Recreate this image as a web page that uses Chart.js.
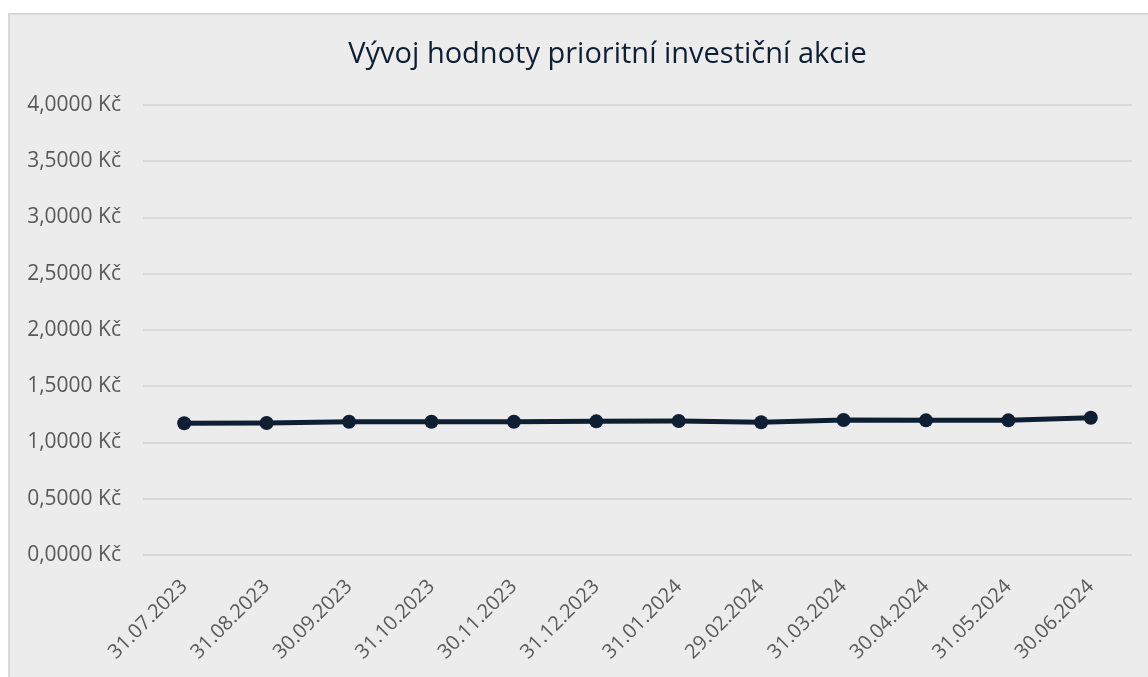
<!DOCTYPE html>
<html>
<head>
<meta charset="utf-8">
<script src="https://cdn.jsdelivr.net/npm/chart.js@4"></script>
<style>
  html, body { margin: 0; padding: 0; background: #ffffff; }
  #wrap {
    position: absolute; left: 8px; top: 13px;
    width: 1140px; height: 664px;
    box-sizing: border-box;
    background: #ececec;
    border-left: 2px solid #d9d9d9;
    border-top: 2px solid #d9d9d9;
  }
  canvas { display: block; }
</style>
</head>
<body>
<div id="wrap"><canvas id="c" width="1138" height="662"></canvas></div>
<script>
const chartTitle = 'Vývoj hodnoty prioritní investiční akcie';
const categories = ['31.07.2023', '31.08.2023', '30.09.2023', '31.10.2023', '30.11.2023', '31.12.2023',
                    '31.01.2024', '29.02.2024', '31.03.2024', '30.04.2024', '31.05.2024', '30.06.2024'];
const values = [1.171, 1.173, 1.185, 1.185, 1.185, 1.188, 1.191, 1.180, 1.200, 1.197, 1.197, 1.220];
const yMin = 0;
const yMax = 4;
const yStep = 0.5;
const currency = 'Kč';

function formatKc(v) {
  return Number(v).toFixed(4).replace('.', ',') + ' ' + currency;
}

const navy = '#0f1f33';

// Title drawn as real canvas text, centred where the original chart centres it
const fixedTitle = {
  id: 'fixedTitle',
  afterDraw(chart, args, opts) {
    const ctx = chart.ctx;
    ctx.save();
    ctx.font = opts.font;
    ctx.fillStyle = opts.color;
    ctx.textAlign = 'center';
    ctx.textBaseline = 'alphabetic';
    ctx.fillText(opts.text, opts.x, opts.y);
    ctx.restore();
  }
};

new Chart(document.getElementById('c'), {
  type: 'line',
  data: {
    labels: categories,
    datasets: [{
      data: values,
      borderColor: navy,
      backgroundColor: navy,
      borderWidth: 5,
      pointRadius: 7,
      pointHoverRadius: 7,
      pointBackgroundColor: navy,
      pointBorderColor: navy,
      pointBorderWidth: 0,
      tension: 0,
      fill: false
    }]
  },
  plugins: [fixedTitle],
  options: {
    responsive: false,
    animation: false,
    devicePixelRatio: 1,
    layout: { padding: { left: 0, right: 16, top: 90, bottom: 0 } },
    plugins: {
      legend: { display: false },
      tooltip: { enabled: false },
      title: { display: false },
      fixedTitle: {
        text: chartTitle,
        color: navy,
        font: 'normal 29px "Open Sans", sans-serif',
        x: 597.5,
        y: 48
      }
    },
    scales: {
      x: {
        type: 'category',
        offset: true,
        grid: { display: false, drawTicks: false },
        border: { display: false },
        ticks: {
          color: '#595959',
          font: { family: '"Open Sans", sans-serif', size: 20 },
          minRotation: 45,
          maxRotation: 45,
          autoSkip: false,
          padding: 20
        },
        afterFit: (s) => { s.height = 122; }
      },
      y: {
        min: yMin,
        max: yMax,
        grid: { color: '#d9d9d9', lineWidth: 2, drawTicks: false },
        border: { display: false },
        ticks: {
          stepSize: yStep,
          color: '#595959',
          font: { family: '"Open Sans", sans-serif', size: 21 },
          padding: 22,
          callback: (v) => formatKc(v)
        },
        afterFit: (s) => { s.width = 133; }
      }
    }
  }
});
</script>
</body>
</html>
